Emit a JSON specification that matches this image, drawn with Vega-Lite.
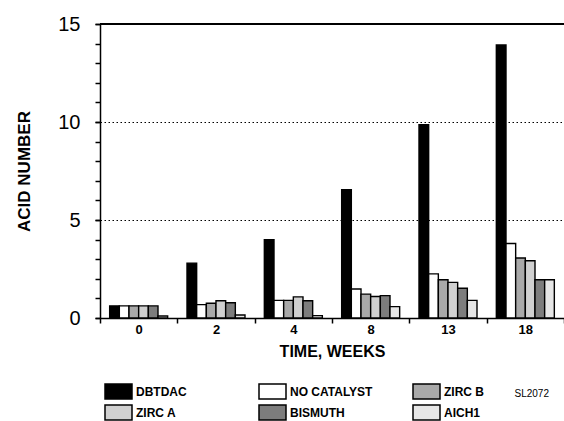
{
  "$schema": "https://vega.github.io/schema/vega-lite/v6.json",
  "width": 464,
  "height": 294,
  "autosize": {"type": "none"},
  "padding": {"left": 100, "top": 24, "right": 0, "bottom": 103},
  "background": "white",
  "config": {
    "view": {"stroke": null},
    "font": "Liberation Sans",
    "axisY": {"labelOverlap": false}
  },
  "title": {
    "text": "SL2072",
    "orient": "bottom",
    "anchor": "end",
    "frame": "group",
    "font": "Liberation Sans",
    "fontSize": 10,
    "fontWeight": "normal",
    "color": "black",
    "dx": -15,
    "offset": -34
  },
  "data": {
    "values": [
      {"week": 0, "catalyst": "DBTDAC", "acid": 0.62},
      {"week": 0, "catalyst": "NO CATALYST", "acid": 0.62},
      {"week": 0, "catalyst": "ZIRC B", "acid": 0.62},
      {"week": 0, "catalyst": "ZIRC A", "acid": 0.62},
      {"week": 0, "catalyst": "BISMUTH", "acid": 0.62},
      {"week": 0, "catalyst": "AICH1", "acid": 0.1},
      {"week": 2, "catalyst": "DBTDAC", "acid": 2.8},
      {"week": 2, "catalyst": "NO CATALYST", "acid": 0.68},
      {"week": 2, "catalyst": "ZIRC B", "acid": 0.75},
      {"week": 2, "catalyst": "ZIRC A", "acid": 0.88},
      {"week": 2, "catalyst": "BISMUTH", "acid": 0.78},
      {"week": 2, "catalyst": "AICH1", "acid": 0.15},
      {"week": 4, "catalyst": "DBTDAC", "acid": 4.0},
      {"week": 4, "catalyst": "NO CATALYST", "acid": 0.9},
      {"week": 4, "catalyst": "ZIRC B", "acid": 0.9},
      {"week": 4, "catalyst": "ZIRC A", "acid": 1.08},
      {"week": 4, "catalyst": "BISMUTH", "acid": 0.88},
      {"week": 4, "catalyst": "AICH1", "acid": 0.12},
      {"week": 8, "catalyst": "DBTDAC", "acid": 6.55},
      {"week": 8, "catalyst": "NO CATALYST", "acid": 1.48},
      {"week": 8, "catalyst": "ZIRC B", "acid": 1.22},
      {"week": 8, "catalyst": "ZIRC A", "acid": 1.1},
      {"week": 8, "catalyst": "BISMUTH", "acid": 1.14},
      {"week": 8, "catalyst": "AICH1", "acid": 0.58},
      {"week": 13, "catalyst": "DBTDAC", "acid": 9.86},
      {"week": 13, "catalyst": "NO CATALYST", "acid": 2.25},
      {"week": 13, "catalyst": "ZIRC B", "acid": 1.95},
      {"week": 13, "catalyst": "ZIRC A", "acid": 1.82},
      {"week": 13, "catalyst": "BISMUTH", "acid": 1.52},
      {"week": 13, "catalyst": "AICH1", "acid": 0.9},
      {"week": 18, "catalyst": "DBTDAC", "acid": 13.93},
      {"week": 18, "catalyst": "NO CATALYST", "acid": 3.8},
      {"week": 18, "catalyst": "ZIRC B", "acid": 3.06},
      {"week": 18, "catalyst": "ZIRC A", "acid": 2.92},
      {"week": 18, "catalyst": "BISMUTH", "acid": 1.95},
      {"week": 18, "catalyst": "AICH1", "acid": 1.95}
    ]
  },
  "resolve": {"axis": {"y": "independent"}},
  "layer": [
    {
      "mark": {"type": "bar", "stroke": "black", "strokeWidth": 1.4},
      "encoding": {
        "x": {
          "field": "week",
          "type": "ordinal",
          "title": "TIME, WEEKS",
          "scale": {"paddingInner": 0, "paddingOuter": 0},
          "axis": {
            "tickBand": "extent",
            "labelAngle": 0,
            "labelFont": "Liberation Sans",
            "labelFontSize": 13,
            "labelFontWeight": "bold",
            "labelColor": "black",
            "labelPadding": 0,
            "tickSize": 5,
            "tickColor": "black",
            "tickWidth": 1.5,
            "domainColor": "black",
            "domainWidth": 1.5,
            "grid": false,
            "titleFont": "Liberation Sans",
            "titleFontSize": 16,
            "titleFontWeight": "bold",
            "titleColor": "black",
            "titlePadding": 7
          }
        },
        "xOffset": {
          "field": "catalyst",
          "type": "nominal",
          "sort": ["DBTDAC", "NO CATALYST", "ZIRC B", "ZIRC A", "BISMUTH", "AICH1"],
          "scale": {"paddingInner": 0, "paddingOuter": 1.83}
        },
        "y": {
          "field": "acid",
          "type": "quantitative",
          "title": "ACID NUMBER",
          "scale": {"domain": [0, 15], "nice": false},
          "axis": {
            "orient": "left",
            "values": [0, 5, 10, 15],
            "labelOverlap": false,
            "grid": true,
            "gridColor": "black",
            "gridDash": [1.5, 2.5],
            "gridWidth": 1.2,
            "tickSize": 5,
            "tickColor": "black",
            "tickWidth": 1.5,
            "domainColor": "black",
            "domainWidth": 1.5,
            "labelFont": "Liberation Sans",
            "labelFontSize": 20,
            "labelColor": "black",
            "labelPadding": 15,
            "titleFont": "Liberation Sans",
            "titleFontSize": 17,
            "titleFontWeight": "bold",
            "titleColor": "black",
            "titlePadding": 24
          }
        },
        "fill": {
          "field": "catalyst",
          "type": "nominal",
          "sort": ["DBTDAC", "NO CATALYST", "ZIRC B", "ZIRC A", "BISMUTH", "AICH1"],
          "scale": {
            "domain": ["DBTDAC", "NO CATALYST", "ZIRC B", "ZIRC A", "BISMUTH", "AICH1"],
            "range": ["#000000", "#ffffff", "#a9a9a9", "#d0d0d0", "#7d7d7d", "#e6e6e6"]
          },
          "legend": {
            "orient": "none",
            "legendX": 10,
            "legendY": 359,
            "columns": 3,
            "direction": "horizontal",
            "title": null,
            "symbolType": "M-1.8,-1H1.8V1H-1.8Z",
            "symbolSize": 225,
            "symbolStrokeColor": "black",
            "symbolStrokeWidth": 1.5,
            "symbolOpacity": 1,
            "labelFont": "Liberation Sans",
            "labelFontSize": 12,
            "labelFontWeight": "bold",
            "labelColor": "black",
            "labelOffset": 9,
            "labelLimit": 200,
            "columnPadding": 37,
            "rowPadding": 0,
            "gridAlign": "all",
            "padding": 0
          }
        }
      }
    },
    {
      "mark": {"type": "rule", "color": "black", "strokeWidth": 1.5},
      "encoding": {
        "y": {
          "datum": 15,
          "type": "quantitative",
          "axis": {
            "orient": "left",
            "values": [0, 1, 2, 3, 4, 5, 6, 7, 8, 9, 10, 11, 12, 13, 14, 15],
            "labels": false,
            "domain": false,
            "grid": false,
            "title": null,
            "tickSize": 5,
            "tickColor": "black",
            "tickWidth": 1.5
          }
        }
      }
    }
  ]
}
